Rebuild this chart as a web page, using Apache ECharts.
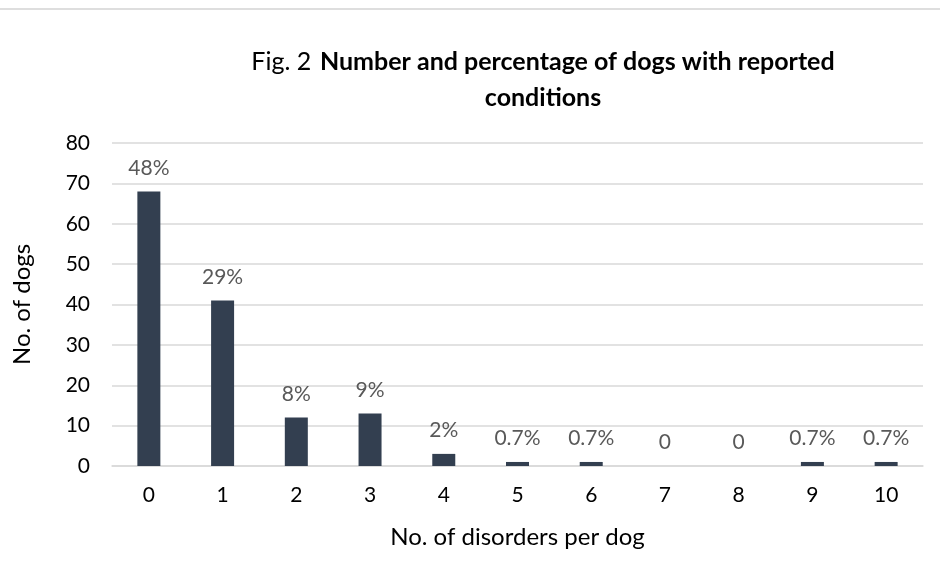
<!DOCTYPE html>
<html>
<head>
<meta charset="utf-8">
<script src="https://cdn.jsdelivr.net/npm/echarts@6/dist/echarts.min.js"></script>
<style>
  html, body { margin: 0; padding: 0; background: #fff; }
  #topline { position: absolute; left: 0; top: 8px; width: 940px; height: 0; border-top: 2px solid #dedede; }
  #chart { width: 940px; height: 579px; }
</style>
</head>
<body>
<div id="topline"></div>
<div id="chart"></div>
<script>
const categories = ["0", "1", "2", "3", "4", "5", "6", "7", "8", "9", "10"];
const dogCounts = [68, 41, 12, 13, 3, 1, 1, 0, 0, 1, 1];
const percentLabels = ["48%", "29%", "8%", "9%", "2%", "0.7%", "0.7%", "0", "0", "0.7%", "0.7%"];

const font = "Lato, 'Open Sans', sans-serif";
const chart = echarts.init(document.getElementById("chart"));
chart.setOption({
  animation: false,
  textStyle: { fontFamily: font },
  title: {
    left: 538,
    top: 39,
    textAlign: "center",
    text: "{n|Fig. 2}  {b|Number and percentage of dogs with reported}\n{b|conditions}",
    textStyle: {
      rich: {
        n: { fontSize: 25, fontFamily: font, fontWeight: "normal", color: "#000", lineHeight: 36 },
        b: { fontSize: 25, fontFamily: font, fontWeight: "bold", color: "#000", lineHeight: 36 }
      }
    }
  },
  grid: { left: 112, right: 17, top: 143, bottom: 113 },
  xAxis: {
    type: "category",
    data: categories,
    name: "No. of disorders per dog",
    nameLocation: "middle",
    nameGap: 59,
    nameTextStyle: { fontSize: 24, color: "#000" },
    axisLine: { lineStyle: { color: "#d9d9d9", width: 1.5 } },
    axisTick: { length: 6, lineStyle: { color: "#d9d9d9", width: 1.5 } },
    axisLabel: { fontSize: 21, color: "#000", margin: 19 }
  },
  yAxis: {
    type: "value",
    min: 0,
    max: 80,
    interval: 10,
    name: "No. of dogs",
    nameLocation: "middle",
    nameGap: 78,
    nameTextStyle: { fontSize: 24, color: "#000" },
    axisLine: { show: false },
    axisTick: { show: false },
    axisLabel: { fontSize: 21, color: "#000", margin: 22 },
    splitLine: { lineStyle: { color: "#d9d9d9", width: 1.5 } }
  },
  series: [{
    type: "bar",
    data: dogCounts,
    barWidth: 23,
    itemStyle: { color: "#333f50" },
    label: {
      show: true,
      position: "top",
      distance: 13,
      fontSize: 21,
      color: "#595959",
      formatter: p => percentLabels[p.dataIndex]
    }
  }]
});
</script>
</body>
</html>
